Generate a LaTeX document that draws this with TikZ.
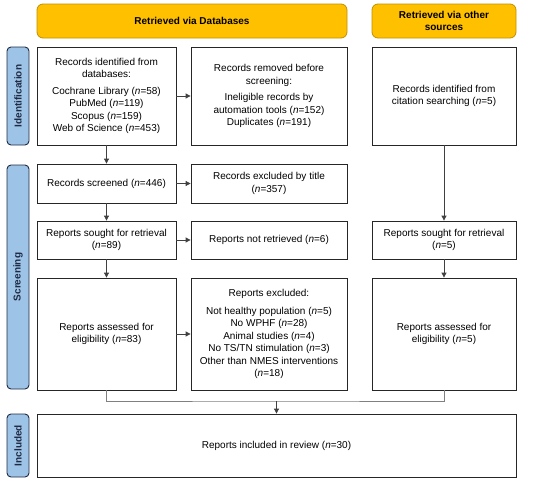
\documentclass[tikz,border=0pt]{standalone}
\usepackage{fontspec}
\setmainfont{Liberation Sans}
\usetikzlibrary{arrows.meta}
\definecolor{hdrfill}{HTML}{FFC000}
\definecolor{hdrline}{HTML}{BF9000}
\definecolor{lblfill}{HTML}{9DC3E6}
\definecolor{lblline}{HTML}{1F2A44}
\definecolor{boxline}{HTML}{262626}
\definecolor{conline}{HTML}{404040}
\definecolor{mergeline}{HTML}{808080}
\tikzset{
  txt/.style={font=\fontsize{10}{12.5}\selectfont, align=center, inner sep=0pt},
  hdr/.style={txt, font=\fontsize{10}{12.5}\selectfont\bfseries, draw=hdrline, fill=hdrfill, line width=0.8pt, rounded corners=6pt, minimum height=34pt},
  lbl/.style={draw=lblline, fill=lblfill, line width=0.9pt, rounded corners=4pt, minimum width=22pt, rotate=90, inner sep=0pt,
     font=\fontsize{10}{12}\selectfont\bfseries, text=lblline},
  stagebox/.style={txt, draw=boxline, line width=0.8pt, fill=white},
  conn/.style={draw=conline, line width=0.8pt, -{Triangle[length=5pt,width=5pt]}},
}
\begin{document}
\begin{tikzpicture}[x=1pt,y=1pt]
\useasboundingbox (0,0) rectangle (550,-482);
% headers
\node[hdr, minimum width=310pt] (h1) at (192,-21) {Retrieved via Databases};
\node[hdr, minimum width=144pt] (h2) at (444,-21) {Retrieved via other\\sources};
% side labels (rotated: width/height swapped)
\node[lbl, minimum height=22pt, minimum width=98pt] (lid) at (18,-96) {Identification};
\node[lbl, minimum height=22pt, minimum width=224pt] (lsc) at (18,-277) {Screening};
\node[lbl, minimum height=22pt, minimum width=63pt] (lin) at (18,-445.5) {Included};
% identification row
\node[stagebox, minimum width=139pt, minimum height=98pt] (ident) at (106.5,-96)
  {Records identified from\\databases:\\[4pt]Cochrane Library (\textit{n}=58)\\PubMed (\textit{n}=119)\\Scopus (\textit{n}=159)\\Web of Science (\textit{n}=453)};
\node[stagebox, minimum width=156pt, minimum height=98pt] (removed) at (269,-96)
  {Records removed before\\screening:\\[4pt]Ineligible records by\\automation tools (\textit{n}=152)\\Duplicates (\textit{n}=191)};
\node[stagebox, minimum width=144pt, minimum height=98pt] (citation) at (444,-96)
  {Records identified from\\citation searching (\textit{n}=5)};
% screening rows
\node[stagebox, minimum width=139pt, minimum height=39pt] (screened) at (106.5,-183.5)
  {Records screened (\textit{n}=446)};
\node[stagebox, minimum width=156pt, minimum height=39pt] (excluded) at (269,-183.5)
  {Records excluded by title\\(\textit{n}=357)};
\node[stagebox, minimum width=139pt, minimum height=38pt] (sought) at (106.5,-240)
  {Reports sought for retrieval\\(\textit{n}=89)};
\node[stagebox, minimum width=156pt, minimum height=38pt] (notretr) at (269,-240)
  {Reports not retrieved (\textit{n}=6)};
\node[stagebox, minimum width=144pt, minimum height=38pt] (sought2) at (444,-240)
  {Reports sought for retrieval\\(\textit{n}=5)};
\node[stagebox, minimum width=139pt, minimum height=112pt] (assessed) at (106.5,-334)
  {Reports assessed for\\eligibility (\textit{n}=83)};
\node[stagebox, minimum width=156pt, minimum height=112pt] (excl2) at (269,-334)
  {Reports excluded:\\[5pt]Not healthy population (\textit{n}=5)\\No WPHF (\textit{n}=28)\\Animal studies (\textit{n}=4)\\No TS/TN stimulation (\textit{n}=3)\\Other than NMES interventions\\(\textit{n}=18)};
\node[stagebox, minimum width=144pt, minimum height=112pt] (assessed2) at (444,-334)
  {Reports assessed for\\eligibility (\textit{n}=5)};
% included
\node[stagebox, minimum width=479pt, minimum height=63pt] (included) at (276.5,-445.5)
  {Reports included in review (\textit{n}=30)};
% connectors
\draw[conn] (ident.south) -- (screened.north);
\draw[conn] (screened.south) -- (sought.north);
\draw[conn] (sought.south) -- (assessed.north);
\draw[conn] (ident.east) -- (removed.west);
\draw[conn] (screened.east) -- (excluded.west);
\draw[conn] (sought.east) -- (notretr.west);
\draw[conn] (assessed.east) -- (excl2.west);
\draw[conn] (citation.south) -- (sought2.north);
\draw[conn] (sought2.south) -- (assessed2.north);
\coordinate (merge) at (276.5,-401);
\draw[draw=mergeline, line width=0.8pt] (assessed.south) |- (merge) -| (assessed2.south);
\draw[conn] (merge) -- (included.north);
\end{tikzpicture}
\end{document}
